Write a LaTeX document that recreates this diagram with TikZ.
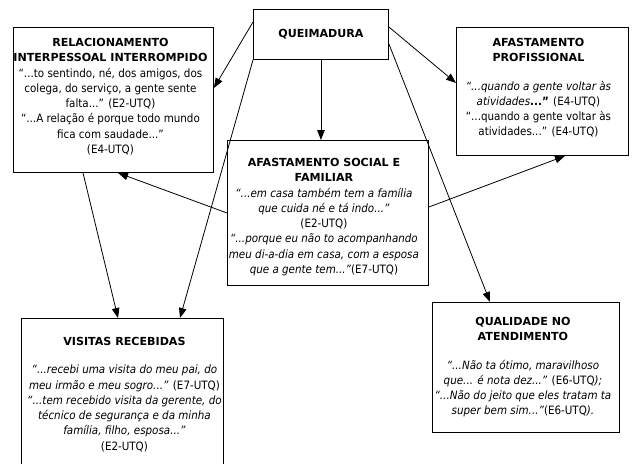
\documentclass[tikz,border=0pt]{standalone}
\usepackage{fontspec}
\setmainfont{DejaVu Sans Condensed}
\newfontfamily\ttlfont{DejaVu Sans}
\newcommand{\ttl}[1]{{\ttlfont\bfseries\fontsize{11.1}{15.3}\selectfont #1}}
\usetikzlibrary{arrows.meta,calc}
\begin{document}
\begin{tikzpicture}[x=1pt,y=-1pt,
 boxst/.style={draw=black, line width=0.9pt, anchor=north west, inner sep=0pt, fill=white},
 txt/.style={anchor=north, align=center, inner sep=0pt, font=\fontsize{11.5}{15.3}\selectfont},
 conn/.style={line width=0.8pt, -{Triangle[length=10pt,width=7.5pt]}}]
\useasboundingbox (0,0) rectangle (634,463);
\fill[white] (0,0) rectangle (634,463);
% boxes
\node[boxst, minimum width=135pt, minimum height=50pt] (q) at (253,9) {};
\node[boxst, minimum width=200pt, minimum height=145pt] (rel) at (13,27) {};
\node[boxst, minimum width=172pt, minimum height=128pt] (prof) at (456,27) {};
\node[boxst, minimum width=201pt, minimum height=145pt] (soc) at (227,140) {};
\node[boxst, minimum width=202pt, minimum height=160pt] (vis) at (21,318) {};
\node[boxst, minimum width=187pt, minimum height=130pt] (qual) at (432,302) {};
% texts
\node[txt, anchor=center] (qT) at (q.center) {\ttl{QUEIMADURA}};
\node[txt, xshift=-3pt, yshift=-11pt] (relT) at (rel.north) {\ttl{RELACIONAMENTO}\\
\ttl{INTERPESSOAL INTERROMPIDO}\\
“...to sentindo, né, dos amigos, dos\\
colega, do serviço, a gente sente\\
falta...” (E2-UTQ)\\
“...A relação é porque todo mundo\\
fica com saudade...”\\
(E4-UTQ)};
\node[txt, xshift=-4pt, yshift=-11pt] (profT) at (prof.north) {\ttl{AFASTAMENTO}\\
\ttl{PROFISSIONAL}\\[13pt]
\textit{“...quando a gente voltar às}\\
\textit{atividades}\textbf{...”} (E4-UTQ)\\
“...quando a gente voltar às\\
atividades...” (E4-UTQ)};
\node[txt, xshift=-4pt, yshift=-18pt] (socT) at (soc.north) {\ttl{AFASTAMENTO SOCIAL E}\\
\ttl{FAMILIAR}\\
\textit{“...em casa também tem a família}\\
\textit{que cuida né e tá indo...”}\\
(E2-UTQ)\\
\textit{“...porque eu não to acompanhando}\\
\textit{meu di-a-dia em casa, com a esposa}\\
\textit{que a gente tem...”}(E7-UTQ)};
\node[txt, xshift=2pt, yshift=-19pt] (visT) at (vis.north) {\ttl{VISITAS RECEBIDAS}\\[13pt]
\textit{“...recebi uma visita do meu pai, do}\\
\textit{meu irmão e meu sogro...”} (E7-UTQ)\\
\textit{“...tem recebido visita da gerente, do}\\
\textit{técnico de segurança e da minha}\\
\textit{família, filho, esposa...”}\\
(E2-UTQ)};
\node[txt, xshift=-3pt, yshift=-15pt] (qualT) at (qual.north) {\ttl{QUALIDADE NO}\\
\ttl{ATENDIMENTO}\\[13pt]
\textit{“...Não ta ótimo, maravilhoso}\\
\textit{que... é nota dez...”} (E6-UTQ\textit{);}\\
\textit{“...Não do jeito que eles tratam ta}\\
\textit{super bem sim...”}(E6-UTQ\textit{).}};
% connectors
\draw[conn] ($(q.north west)+(0,13)$) -- ($(rel.north east)+(0,61)$);
\draw[conn] (q.south west) -- ($(vis.north west)+(159,0)$);
\draw[conn] (q.south) -- (q.south |- soc.north);
\draw[conn] ($(q.north east)+(0,18)$) -- ($(prof.north west)+(0,56)$);
\draw[conn] ($(q.south east)+(0,-16)$) -- ($(qual.north west)+(58,0)$);
\draw[conn] ($(soc.north west)+(0,73)$) -- ($(rel.south west)+(105,0)$);
\draw[conn] ($(soc.north east)+(0,67)$) -- ($(prof.south west)+(109,0)$);
\draw[conn] ($(rel.south west)+(70,0)$) -- ($(vis.north west)+(97,0)$);
\end{tikzpicture}
\end{document}
